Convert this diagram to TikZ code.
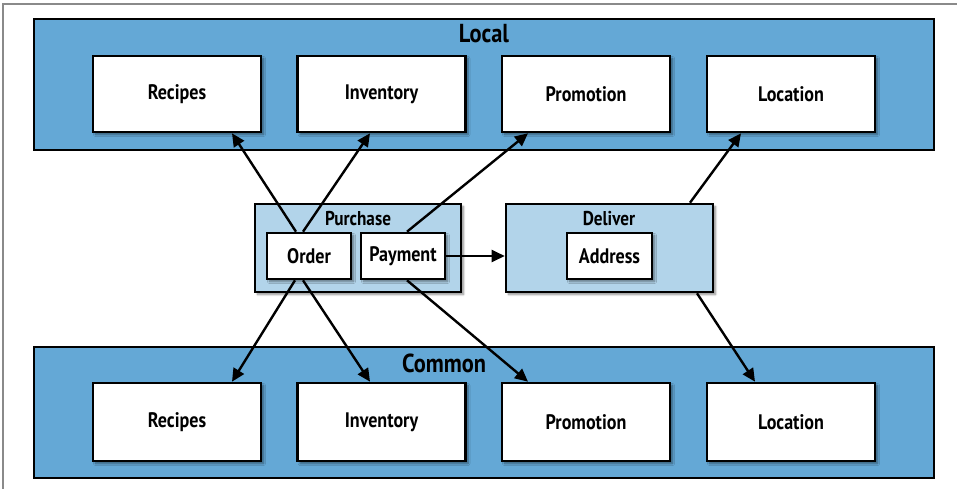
\documentclass[tikz,border=0pt]{standalone}
\usepackage{fontspec}
\setmainfont{PT Sans}[FakeStretch=0.86]
\usetikzlibrary{arrows.meta,shadows.blur,positioning}
\definecolor{outerblue}{HTML}{64A8D6}
\definecolor{innerblue}{HTML}{B2D4EA}
\definecolor{framegray}{HTML}{8A8A8A}
\begin{document}
\begin{tikzpicture}[x=1pt,y=-1pt,
  shad/.style={blur shadow={shadow xshift=2.5pt,shadow yshift=-2.5pt,shadow blur steps=6,shadow opacity=45}},
  outerbox/.style={draw=black,line width=2.6pt,fill=outerblue},
  groupbox/.style={draw=black,line width=2.6pt,fill=innerblue,shad},
  svcbox/.style={draw=black,line width=2.6pt,fill=white,shad,font=\bfseries\fontsize{21}{24}\selectfont},
  lbl/.style={font=\bfseries\fontsize{26}{30}\selectfont},
  glbl/.style={font=\bfseries\fontsize{20}{23}\selectfont},
  arr/.style={-{Triangle[length=13pt,width=12pt]},line width=2.4pt}]
\useasboundingbox (0,0) rectangle (957,489);
\draw[framegray,line width=1.2pt] (3,489) -- (3,4) -- (957,4);
% outer boxes
\path[outerbox] (34,19) rectangle (934,150);
\node[lbl] (local) at (484,34) {Local};
\path[outerbox] (34,347) rectangle (934,478);
\node[lbl] (common) at (444,363) {Common};
% top services
\node[svcbox,minimum width=168pt,minimum height=76pt] (lrec) at (177,94) {Recipes};
\node[svcbox,minimum width=168pt,minimum height=76pt] (linv) at (381.5,94) {Inventory};
\node[svcbox,minimum width=168pt,minimum height=76pt] (lpro) at (586,94) {Promotion};
\node[svcbox,minimum width=168pt,minimum height=76pt] (lloc) at (791,94) {Location};
% bottom services
\node[svcbox,minimum width=168pt,minimum height=78pt] (crec) at (177,422) {Recipes};
\node[svcbox,minimum width=168pt,minimum height=78pt] (cinv) at (381.5,422) {Inventory};
\node[svcbox,minimum width=168pt,minimum height=78pt] (cpro) at (586,422) {Promotion};
\node[svcbox,minimum width=168pt,minimum height=78pt] (cloc) at (791,422) {Location};
% groups
\node[groupbox,minimum width=206pt,minimum height=88pt] (purchase) at (358,248) {};
\node[glbl] (purlbl) at (358,219) {Purchase};
\node[groupbox,minimum width=207pt,minimum height=88pt] (deliver) at (609.5,248) {};
\node[glbl] (dellbl) at (609,219) {Deliver};
\node[svcbox,minimum width=84pt,minimum height=46pt,inner sep=1pt] (order) at (309,256) {Order};
\node[svcbox,minimum width=84pt,minimum height=46pt,inner sep=1pt] (payment) at (403,256) {Payment};
\node[svcbox,minimum width=85pt,minimum height=46pt,inner sep=1pt] (address) at (609.5,256) {Address};
% arrows up
\draw[arr] ([xshift=-13pt]order.north) -- ([xshift=55pt]lrec.south);
\draw[arr] ([xshift=-6pt]order.north) -- ([xshift=-11.5pt]linv.south);
\draw[arr] ([xshift=4pt]payment.north) -- ([xshift=-58pt]lpro.south);
\draw[arr] ([xshift=80.5pt]deliver.north) -- ([xshift=-50pt]lloc.south);
% arrows down
\draw[arr] ([xshift=-14pt]order.south) -- ([xshift=55pt]crec.north);
\draw[arr] ([xshift=-6pt]order.south) -- ([xshift=-11.5pt]cinv.north);
\draw[arr] ([xshift=4pt]payment.south) -- ([xshift=-58pt]cpro.north);
\draw[arr] ([xshift=87.5pt]deliver.south) -- ([xshift=-36pt]cloc.north);
% horizontal
\draw[arr] (payment.east) -- (payment.east -| deliver.west);
\end{tikzpicture}
\end{document}
